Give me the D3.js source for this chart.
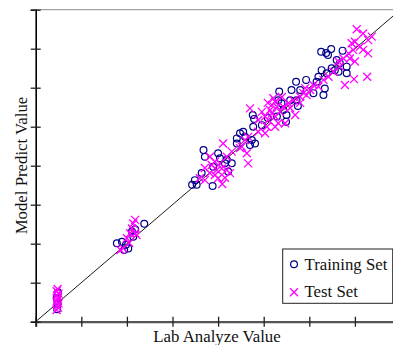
<!DOCTYPE html>
<html>
<head>
<meta charset="utf-8">
<script src="https://cdn.jsdelivr.net/npm/d3@7"></script>
<style>
  html, body { margin: 0; padding: 0; background: #fff; }
  svg { display: block; font-family: "Liberation Serif", "DejaVu Serif", serif; }
</style>
</head>
<body>
<svg id="chart" width="393" height="345"></svg>
<script>
// training set: lab value (x) vs model prediction (y)
const trainX = [6.26, 6.37, 6.48, 6.73, 6.41, 6.60, 6.67, 6.49, 6.56, 6.64, 6.27, 6.38, 6.82, 6.82, 6.20, 6.16, 6.34, 6.31, 6.09, 5.93,
  5.71, 5.61, 5.34, 5.72, 5.75, 5.58, 5.32, 5.43, 5.50, 5.49, 5.29, 4.76, 4.79, 5.39, 4.96, 4.77, 4.55, 4.48, 4.59, 4.74,
  4.41, 4.70, 4.81, 4.41, 3.68, 3.71, 4.00, 4.04, 3.89, 3.64, 4.15, 3.88, 3.49, 3.53, 3.43, 4.22, 4.30, 4.19, 5.80, 5.09,
  1.78, 1.89, 1.98, 2.03, 1.94, 2.14, 2.18, 2.38, 2.11,
  0.47, 0.48, 0.46, 0.49];
const trainY = [6.92, 6.89, 6.99, 6.95, 6.84, 6.71, 6.63, 6.50, 6.45, 6.41, 6.45, 6.37, 6.54, 6.37, 6.28, 6.15, 5.98, 5.81, 5.86, 6.20,
  6.15, 5.94, 5.90, 5.68, 5.53, 5.68, 5.68, 5.43, 5.30, 5.13, 5.26, 5.30, 5.20, 5.60, 5.04, 5.00, 4.87, 4.83, 4.74, 4.66,
  4.57, 4.53, 4.57, 4.70, 4.40, 4.23, 4.32, 4.19, 3.97, 3.81, 4.06, 3.48, 3.63, 3.51, 3.51, 3.85, 4.06, 4.15, 5.94, 5.22,
  2.01, 2.05, 1.97, 1.88, 1.84, 2.18, 2.37, 2.51, 2.31,
  0.32, 0.46, 0.61, 0.75];

// test set
const testX = [7.04, 7.18, 7.37, 7.29, 7.00, 6.93, 7.11, 7.29, 7.18, 6.96, 6.86, 6.89, 7.00, 6.75, 6.64, 6.67, 6.53, 6.42, 6.31, 6.20,
  6.09, 6.02, 5.94, 5.87, 5.80, 6.78, 6.98, 7.27, 5.65, 5.54, 5.43, 5.21, 5.25, 5.18, 5.29, 5.14, 5.36, 5.18, 5.03, 5.25,
  5.10, 5.69, 5.47, 5.32, 5.25, 5.07, 5.03, 4.88, 4.70, 4.66, 4.59, 4.52, 4.63, 4.66, 4.11, 4.30, 4.19, 4.04, 3.93, 3.82,
  3.86, 4.08, 3.97, 4.19, 3.82, 4.26, 3.93, 3.71, 4.00, 4.09, 3.60, 4.48,
  4.96, 5.09, 5.40, 5.58, 4.88, 5.80, 5.91, 3.71, 4.15,
  2.18, 2.14, 2.11, 2.07, 2.18, 2.00, 1.92, 1.86, 2.21, 2.05,
  0.46, 0.49, 0.47, 0.50, 0.46, 0.48, 0.49, 0.47, 0.50, 0.46, 0.48];
const testY = [7.50, 7.39, 7.31, 7.22, 7.18, 7.14, 7.05, 6.88, 6.97, 6.97, 6.88, 6.75, 6.67, 6.75, 6.67, 6.54, 6.41, 6.28, 6.20, 6.03,
  6.07, 5.94, 5.81, 5.86, 5.77, 6.07, 6.22, 6.28, 5.68, 5.60, 5.51, 5.73, 5.64, 5.56, 5.51, 5.43, 5.38, 5.34, 5.26, 5.26,
  5.17, 5.30, 5.09, 5.09, 5.00, 5.00, 4.83, 4.87, 5.47, 4.74, 4.66, 4.49, 4.32, 4.06, 4.57, 4.36, 4.23, 4.06, 4.10, 4.23,
  4.02, 3.93, 3.89, 3.89, 3.81, 3.81, 3.76, 3.63, 3.68, 3.53, 3.68, 4.45,
  5.38, 5.61, 5.76, 5.48, 5.17, 5.61, 5.99, 3.94, 3.69,
  2.61, 2.52, 2.39, 2.27, 2.27, 2.14, 1.88, 1.84, 2.22, 2.02,
  0.30, 0.36, 0.42, 0.47, 0.52, 0.57, 0.62, 0.67, 0.72, 0.78, 0.84];

const xTicks = [0, 1, 2, 3, 4, 5, 6, 7, 8];
const yTicks = [0, 1, 2, 3, 4, 5, 6, 7, 8];
const seriesNames = ["Training Set", "Test Set"];

const svg = d3.select("#chart");
const margin = { left: 35.7, right: 400.5, top: 9.7, bottom: 321.7 };

const x = d3.scaleLinear().domain([0, 8]).range([margin.left, margin.right]);
const y = d3.scaleLinear().domain([0, 8]).range([margin.bottom, margin.top]);

const navy = "#00008b", magenta = "#ff00ff";

// top border
svg.append("line")
    .attr("x1", margin.left).attr("x2", margin.right)
    .attr("y1", margin.top).attr("y2", margin.top)
    .attr("stroke", "#8a8a8a").attr("stroke-width", 1);

// y = x reference line
svg.append("line")
    .attr("x1", x(0)).attr("y1", y(0))
    .attr("x2", x(8)).attr("y2", y(8))
    .attr("stroke", "#000").attr("stroke-width", 0.9);

// axes, ticks crossing the axis line
const xAxis = svg.append("g")
    .attr("transform", `translate(0,${margin.bottom})`)
    .call(d3.axisBottom(x).tickValues(xTicks).tickSize(5).tickFormat(""));
xAxis.select(".domain").attr("stroke", "#555").attr("stroke-width", 2.2);
xAxis.selectAll(".tick line").attr("y1", -5).attr("stroke", "#222").attr("stroke-width", 1.3);

const yAxis = svg.append("g")
    .attr("transform", `translate(${margin.left},0)`)
    .call(d3.axisLeft(y).tickValues(yTicks).tickSize(5).tickFormat(""));
yAxis.select(".domain").attr("stroke", "#000").attr("stroke-width", 1.6);
yAxis.selectAll(".tick line").attr("x1", 5).attr("stroke", "#222").attr("stroke-width", 1.3);

// training points
svg.append("g").selectAll("circle")
    .data(trainX.map((v, i) => [v, trainY[i]]))
    .join("circle")
    .attr("cx", d => x(d[0]))
    .attr("cy", d => y(d[1]))
    .attr("r", 3.4)
    .attr("fill", "none")
    .attr("stroke", navy)
    .attr("stroke-width", 1.2);

// test points
function drawX(g, cx, cy, s) {
    g.append("path")
        .attr("d", `M${cx - s},${cy - s}L${cx + s},${cy + s}M${cx - s},${cy + s}L${cx + s},${cy - s}`)
        .attr("stroke", magenta)
        .attr("stroke-width", 1.3)
        .attr("fill", "none");
}
const testG = svg.append("g");
testX.forEach((v, i) => drawX(testG, x(v), y(testY[i]), 4));

// axis titles
svg.append("text")
    .attr("x", 217).attr("y", 341.5)
    .attr("text-anchor", "middle")
    .attr("font-size", 16.8)
    .attr("fill", "#111")
    .text("Lab Analyze Value");

svg.append("text")
    .attr("transform", "translate(27,165.5) rotate(-90)")
    .attr("text-anchor", "middle")
    .attr("font-size", 16.8)
    .attr("fill", "#111")
    .text("Model Predict Value");

// legend
const legend = svg.append("g");
legend.append("rect")
    .attr("x", 282.7).attr("y", 249)
    .attr("width", 110).attr("height", 54.3)
    .attr("fill", "#fff")
    .attr("stroke", "#222").attr("stroke-width", 1);
legend.append("circle")
    .attr("cx", 294).attr("cy", 264.3).attr("r", 3.4)
    .attr("fill", "none").attr("stroke", navy).attr("stroke-width", 1.2);
drawX(legend, 294, 292.3, 4);
legend.selectAll("text")
    .data(seriesNames)
    .join("text")
    .attr("x", 304.5)
    .attr("y", (d, i) => 270 + i * 27.3)
    .attr("font-size", 16.8)
    .attr("fill", "#111")
    .text(d => d);
</script>
</body>
</html>
